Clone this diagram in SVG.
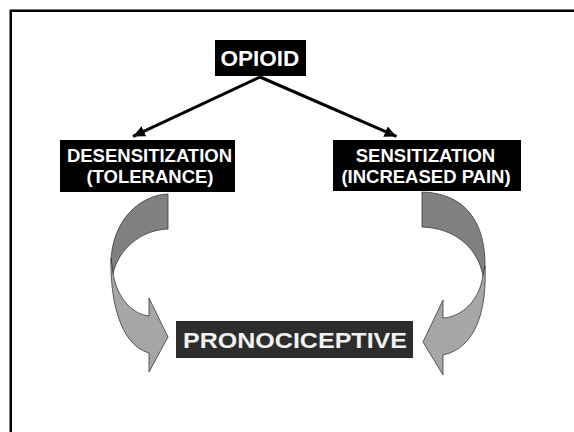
<svg xmlns="http://www.w3.org/2000/svg" width="574" height="432" viewBox="0 0 574 432">
<defs>
<marker id="ah" markerUnits="userSpaceOnUse" markerWidth="14" markerHeight="12" refX="12" refY="6" orient="auto">
<path d="M0,0.5 L12,6 L0,11.5 Z" fill="#000"/>
</marker>
<style>
.box{fill:#000}
.lbl{font-family:"Liberation Sans",Arial,sans-serif;font-weight:bold;fill:#fff;text-anchor:middle}
.back{fill:#808080;stroke:#3a3a3a;stroke-width:0.8}
.front{fill:#a6a6a6;stroke:#3a3a3a;stroke-width:0.8}
.conn{stroke:#000;stroke-width:3;fill:none}
</style>
</defs>
<rect width="574" height="432" fill="#fff"/>
<rect x="10.75" y="10.75" width="620" height="480" fill="none" stroke="#000" stroke-width="2.5"/>
<g id="connectors">
<line class="conn" x1="260" y1="77" x2="133" y2="136.4" marker-end="url(#ah)"/>
<line class="conn" x1="260" y1="77" x2="396.5" y2="136.4" marker-end="url(#ah)"/>
</g>
<g id="curved-arrow-left">
<path class="back" d="M168,194 C140,195 112,220 111,262 L113,274 C118,250 140,230 168,229 Z"/>
<path class="front" d="M111,258 C110,300 120,345 149,353 L149,372 L168,337 L149,298 L149,316 C132,314 117,298 113,273 Z"/>
</g>
<g id="curved-arrow-right">
<path class="back" d="M422,192 C465,193 486,222 485,268 L483,276 C478,248 455,228 422,227 Z"/>
<path class="front" d="M485,266 C487,310 476,348 443,355 L443,375 L423,342 L443,300 L443,318 C462,317 480,300 483,275 Z"/>
</g>
<g id="opioid">
<rect class="box" x="215" y="40" width="91" height="36"/>
<text class="lbl" x="260" y="66" font-size="22.5">OPIOID</text>
</g>
<g id="desensitization">
<rect class="box" x="60" y="140" width="175" height="52"/>
<text class="lbl" x="149.5" y="162" font-size="18.5">DESENSITIZATION</text>
<text class="lbl" x="150" y="183" font-size="18.5">(TOLERANCE)</text>
</g>
<g id="sensitization">
<rect class="box" x="333" y="140" width="188" height="51"/>
<text class="lbl" x="425.5" y="162" font-size="18.5">SENSITIZATION</text>
<text class="lbl" x="426" y="183" font-size="18.5">(INCREASED PAIN)</text>
</g>
<g id="pronociceptive">
<rect x="176" y="321" width="237" height="37" fill="#2d2d2d"/>
<text class="lbl" x="295" y="348" font-size="22" textLength="224" lengthAdjust="spacingAndGlyphs" style="fill:#f2f2f2">PRONOCICEPTIVE</text>
</g>
</svg>
